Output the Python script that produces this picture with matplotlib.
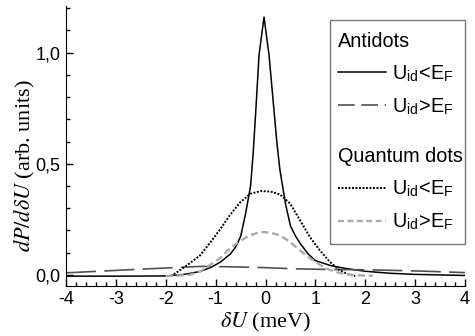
import matplotlib
matplotlib.use('Agg')
from matplotlib import pyplot as plt
from matplotlib.lines import Line2D
from matplotlib.patches import Rectangle
from matplotlib.ticker import MultipleLocator, FuncFormatter

plt.rcParams['font.family'] = ['Liberation Sans', 'DejaVu Sans']
plt.rcParams['mathtext.fontset'] = 'stix'
plt.rcParams['axes.unicode_minus'] = False

# antidots, U_id < E_F (solid)
ad_low_x = [-4, -3, -2, -1.7, -1.5, -1.3, -1.1, -0.9, -0.7, -0.6, -0.5, -0.4, -0.3, -0.25,
            -0.2, -0.13, -0.03, 0.07, 0.17, 0.23, 0.29, 0.4, 0.5, 0.6, 0.7, 0.85, 1.0, 1.3,
            1.6, 2.0, 2.5, 3.0, 4.0]
ad_low_y = [-0.006, -0.006, -0.005, 0.0, 0.007, 0.016, 0.033, 0.058, 0.095, 0.125, 0.172,
            0.275, 0.40, 0.54, 0.72, 0.99, 1.16, 0.99, 0.74, 0.59, 0.47, 0.32, 0.22, 0.175,
            0.14, 0.095, 0.064, 0.042, 0.029, 0.016, 0.007, 0.002, -0.003]

# antidots, U_id > E_F (long dashes)
ad_high_x = [-4, -3.26, -2.46, -1.78, -1.3, -0.7, -0.1, 0.6, 1.3, 2.2, 3.1, 4.0]
ad_high_y = [0.009, 0.017, 0.026, 0.033, 0.038, 0.036, 0.033, 0.027, 0.024, 0.022, 0.017, 0.010]

# quantum dots, U_id < E_F (dotted)
qd_low_x = [-1.9, -1.72, -1.52, -1.31, -1.11, -0.91, -0.71, -0.51, -0.3, -0.1, 0.1, 0.29,
            0.49, 0.69, 0.89, 1.09, 1.29, 1.49, 1.65, 1.8]
qd_low_y = [-0.006, 0.02, 0.052, 0.088, 0.145, 0.205, 0.27, 0.326, 0.365, 0.377, 0.375,
            0.362, 0.322, 0.246, 0.17, 0.11, 0.058, 0.02, 0.003, -0.006]

# quantum dots, U_id > E_F (grey short dashes)
qd_high_x = [-2.0, -1.8, -1.52, -1.31, -1.11, -0.91, -0.71, -0.51, -0.31, -0.11, 0.09, 0.29,
             0.49, 0.69, 0.89, 1.09, 1.29, 1.49, 1.8, 2.15]
qd_high_y = [-0.006, -0.004, 0.0, 0.015, 0.045, 0.075, 0.12, 0.152, 0.178, 0.193, 0.19, 0.178,
             0.148, 0.11, 0.075, 0.045, 0.022, 0.008, -0.002, -0.004]

lab_low = r'U$_{\mathregular{id}}$<E$_{\mathregular{F}}$'
lab_high = r'U$_{\mathregular{id}}$>E$_{\mathregular{F}}$'

fig = plt.figure(figsize=(4.75, 3.36), dpi=100)
ax = fig.add_axes([0.139, 0.149, 0.840, 0.833])

ax.plot(ad_low_x, ad_low_y, color='black', lw=1.1)
ax.plot(ad_high_x, ad_high_y, color='#505050', lw=1.2, dashes=(18, 5))
ax.plot(qd_low_x, qd_low_y, color='black', lw=1.4, dashes=(1, 0.8))
ax.plot(qd_high_x, qd_high_y, color='#aaaaaa', lw=1.7, dashes=(3, 1.6))

ax.set_xlim(-4, 4)
ax.set_ylim(-0.05, 1.21)
ax.spines['top'].set_visible(False)
ax.spines['right'].set_visible(False)
ax.xaxis.set_major_locator(MultipleLocator(1))
ax.xaxis.set_minor_locator(MultipleLocator(0.2))
ax.yaxis.set_major_locator(MultipleLocator(0.5))
ax.yaxis.set_minor_locator(MultipleLocator(0.1))
ax.yaxis.set_major_formatter(FuncFormatter(lambda v, p: f'{v:.1f}'.replace('.', ',')))
ax.tick_params(which='both', direction='in', labelsize=13, width=1)
ax.tick_params(which='major', length=5, pad=4)
ax.tick_params(which='minor', length=3)

ax.set_xlabel(r'$\delta U$ (meV)', fontsize=16, family='Liberation Serif', labelpad=2)
ax.set_ylabel(r'$dP/d\delta U$ (arb. units)', fontsize=16, family='Liberation Serif')
ax.yaxis.set_label_coords(-0.072, 0.43)

h1 = [Line2D([], [], color='black', lw=1.1),
      Line2D([], [], color='#505050', lw=1.2, dashes=(10, 4))]
h2 = [Line2D([], [], color='black', lw=1.4, dashes=(1, 0.8)),
      Line2D([], [], color='#aaaaaa', lw=1.7, dashes=(2.5, 1.5))]
common = dict(loc='upper left', frameon=False, fontsize=14.3, title_fontsize=14.3,
              alignment='left', handlelength=2.4, handletextpad=0.3, labelspacing=0.62,
              borderpad=0.2, borderaxespad=0)
leg1 = ax.legend(h1, [lab_low, lab_high], title='Antidots',
                 bbox_to_anchor=(0.672, 0.922), **common)
ax.add_artist(leg1)
leg2 = ax.legend(h2, [lab_low, lab_high], title='Quantum dots',
                 bbox_to_anchor=(0.672, 0.51), **common)
ax.add_patch(Rectangle((0.662, 0.15), 0.338, 0.80, transform=ax.transAxes, fill=False,
                       edgecolor='#777777', lw=1, clip_on=False))

fig.savefig('out.png', dpi=100)
